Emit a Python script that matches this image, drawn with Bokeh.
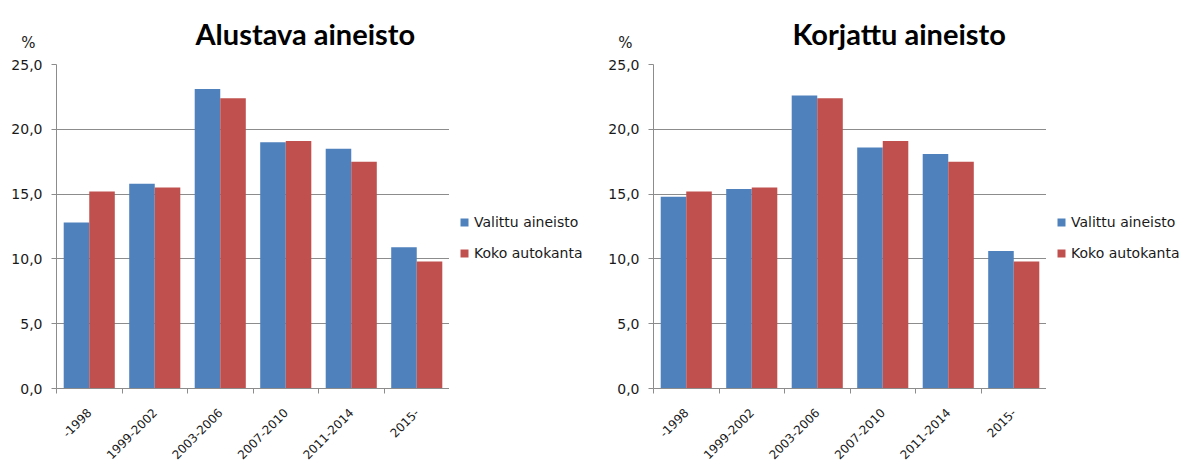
import math
from bokeh.plotting import figure
from bokeh.layouts import row, column
from bokeh.models import (Range1d, FixedTicker, Legend, LegendItem, Label,
                          ColumnDataSource)
from bokeh.transform import dodge
from bokeh.embed import file_html
from bokeh.resources import INLINE

categories = ["-1998", "1999-2002", "2003-2006", "2007-2010", "2011-2014", "2015-"]
alustava_valittu = [12.8, 15.8, 23.1, 19.0, 18.5, 10.9]
alustava_koko = [15.2, 15.5, 22.4, 19.1, 17.5, 9.8]
korjattu_valittu = [14.8, 15.4, 22.6, 18.6, 18.1, 10.6]
korjattu_koko = [15.2, 15.5, 22.4, 19.1, 17.5, 9.8]
series_names = ["Valittu aineisto", "Koko autokanta"]
titles = ["Alustava aineisto", "Korjattu aineisto"]
y_ticks = [0, 5, 10, 15, 20, 25]
y_tick_labels = ["0,0", "5,0", "10,0", "15,0", "20,0", "25,0"]

BLUE = "#4F81BD"
RED = "#C0504D"
GRID = "#8C8C8C"
TXT = "#1a1a1a"
TICK_FONT = "DejaVu Sans"
HEADER_H = 50


def make_panel(valittu, koko):
    n = len(categories)
    p = figure(frame_width=393, frame_height=324, output_backend="svg",
               toolbar_location=None,
               x_range=Range1d(0, n), y_range=Range1d(0, 25),
               min_border_left=56, min_border_right=0,
               min_border_top=14, min_border_bottom=78,
               outline_line_color=None, background_fill_color="white",
               border_fill_color="white")
    xs = [i + 0.5 for i in range(n)]
    src = ColumnDataSource(dict(x=xs, v=valittu, k=koko))
    p.vbar(x=dodge("x", -0.195), top="v", width=0.39, bottom=0, source=src,
           fill_color=BLUE, line_color=None)
    p.vbar(x=dodge("x", 0.195), top="k", width=0.39, bottom=0, source=src,
           fill_color=RED, line_color=None)

    xa = p.xaxis[0]
    xa.ticker = FixedTicker(ticks=xs, minor_ticks=list(range(n + 1)))
    xa.major_label_overrides = {x: c for x, c in zip(xs, categories)}
    xa.major_tick_out = 0
    xa.major_tick_in = 0
    xa.minor_tick_out = 5
    xa.minor_tick_in = 0
    xa.minor_tick_line_color = GRID
    xa.axis_line_color = GRID
    xa.major_label_orientation = math.pi / 4
    xa.major_label_text_font = TICK_FONT
    xa.major_label_text_font_size = "12px"
    xa.major_label_text_color = TXT
    xa.major_label_standoff = 17

    ya = p.yaxis[0]
    ya.ticker = FixedTicker(ticks=y_ticks, minor_ticks=[])
    ya.major_label_overrides = {t: l for t, l in zip(y_ticks, y_tick_labels)}
    ya.major_tick_out = 5
    ya.major_tick_in = 0
    ya.minor_tick_out = 0
    ya.minor_tick_in = 0
    ya.major_tick_line_color = GRID
    ya.axis_line_color = GRID
    ya.major_label_text_font = TICK_FONT
    ya.major_label_text_font_size = "14px"
    ya.major_label_text_color = TXT
    ya.major_label_standoff = 9

    p.xgrid.visible = False
    p.ygrid.grid_line_color = GRID
    p.ygrid.grid_line_width = 1
    return p


def make_legend_panel():
    lp = figure(width=148, height=466 - HEADER_H, output_backend="svg",
                toolbar_location=None, x_axis_type=None, y_axis_type=None,
                x_range=Range1d(0, 1), y_range=Range1d(0, 1),
                min_border_left=0, min_border_right=0,
                min_border_top=0, min_border_bottom=0,
                outline_line_color=None, background_fill_color="white",
                border_fill_color="white")
    lp.grid.visible = False
    proxy = ColumnDataSource(dict(x=[0.5], top=[0]))
    g1 = lp.vbar(x="x", top="top", bottom=0, width=0.0, source=proxy,
                 fill_color=BLUE, line_color=None)
    g2 = lp.vbar(x="x", top="top", bottom=0, width=0.0, source=proxy,
                 fill_color=RED, line_color=None)
    legend = Legend(items=[LegendItem(label=series_names[0], renderers=[g1]),
                           LegendItem(label=series_names[1], renderers=[g2])],
                    location=(10, 125), glyph_width=10, glyph_height=10,
                    label_standoff=5, spacing=11, padding=0, margin=0,
                    border_line_color=None, background_fill_alpha=0,
                    label_text_font=TICK_FONT, label_text_font_size="14px",
                    label_text_color=TXT, label_height=20)
    lp.add_layout(legend, "center")
    return lp


def make_header():
    h = figure(width=1194, height=HEADER_H, output_backend="svg",
               toolbar_location=None, x_axis_type=None, y_axis_type=None,
               x_range=Range1d(0, 1194), y_range=Range1d(HEADER_H, 0),
               min_border_left=0, min_border_right=0,
               min_border_top=0, min_border_bottom=0,
               outline_line_color=None, background_fill_color="white",
               border_fill_color="white")
    h.grid.visible = False
    for x0, t in zip([195, 792], titles):
        h.add_layout(Label(x=x0, y=33, text=t, text_align="left",
                           text_baseline="alphabetic", text_font="Lato",
                           text_font_style="bold", text_font_size="29px",
                           text_color="black"))
    for xp in [28, 625]:
        h.add_layout(Label(x=xp, y=42, text="%", text_align="center",
                           text_baseline="middle", text_font=TICK_FONT,
                           text_font_size="15px", text_color=TXT))
    return h


header = make_header()
p1 = make_panel(alustava_valittu, alustava_koko)
l1 = make_legend_panel()
p2 = make_panel(korjattu_valittu, korjattu_koko)
l2 = make_legend_panel()
layout = column(header, row(p1, l1, p2, l2, spacing=0), spacing=0)

open("out.html", "w").write(file_html(layout, INLINE))
